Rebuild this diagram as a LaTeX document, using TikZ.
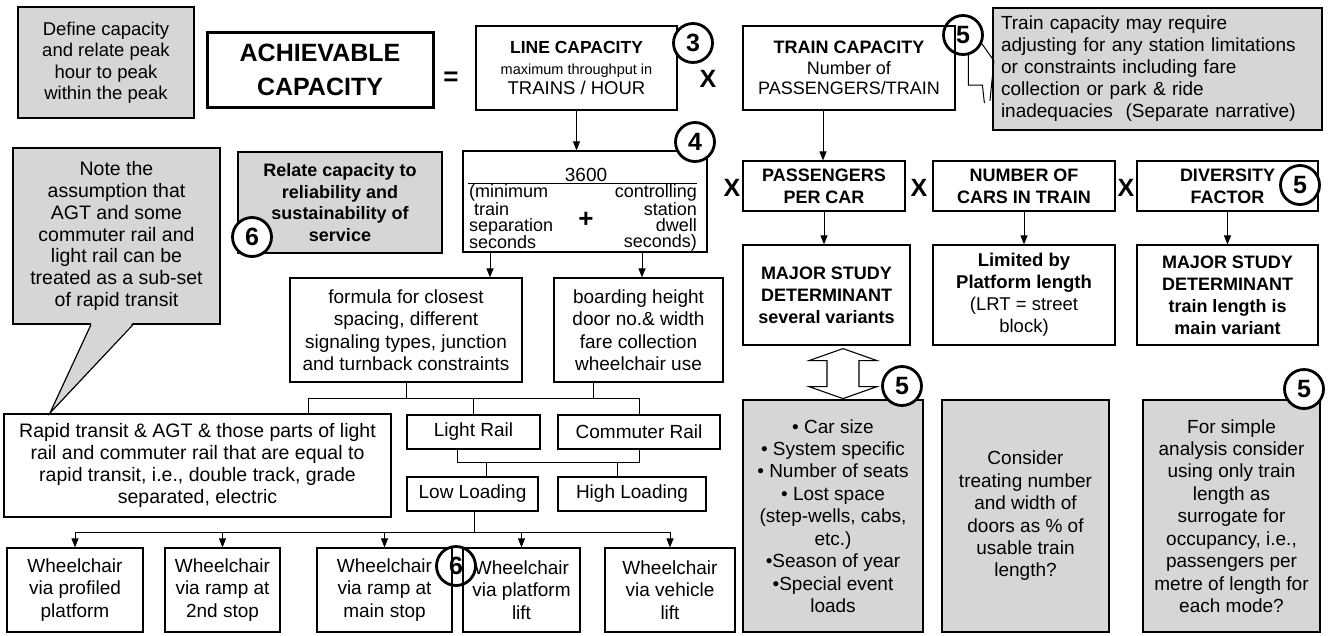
\documentclass[tikz,border=0pt]{standalone}
\usepackage{fontspec}
\setmainfont{Liberation Sans}
\usetikzlibrary{arrows.meta,calc}
\definecolor{gfill}{gray}{0.84}
\newcommand{\fsz}[2]{\fontsize{#1}{#2}\selectfont}
\begin{document}
\begin{tikzpicture}[x=1pt,y=-1pt,
  box/.style={draw, line width=1.2pt, align=center, inner sep=0pt, font=\fsz{19}{22.5}},
  gbox/.style={box, fill=gfill},
  bbox/.style={box, font=\bfseries\fsz{18}{22}},
  num/.style={circle, draw, line width=2.8pt, minimum size=39pt, inner sep=0pt, font=\bfseries\fsz{25}{25}},
  numw/.style={num, fill=white},
  times/.style={font=\bfseries\fsz{25}{25}, inner sep=0pt},
  arr/.style={line width=1pt, -{Triangle[length=9pt,width=7pt]}},
  ln/.style={line width=1pt},
]
\useasboundingbox (0,0) rectangle (1331,635);
\fill[white] (0,0) rectangle (1331,635);

% ---------------- top row
\node[gbox, minimum width=176pt, minimum height=111pt, font=\fsz{18.5}{21.5}] (define) at (106,62.5)
  {Define capacity\\and relate peak\\hour to peak\\within the peak};
\node[box, line width=3pt, minimum width=226pt, minimum height=75pt, font=\bfseries\fsz{25}{34}] (achieve) at (320,69.5)
  {ACHIEVABLE\\CAPACITY};
\node[font=\bfseries\fsz{26}{26}, inner sep=0pt] (eq) at (451,79) {=};
\node[box, minimum width=201pt, minimum height=84pt, font=\fsz{18}{20.5}] (linecap) at (576.5,68)
  {{\bfseries\fsz{17.5}{20}LINE CAPACITY}\\{\fsz{14.5}{20}maximum throughput in}\\{\fsz{18.5}{20}TRAINS / HOUR}};
\node[numw] (c3) at (693,43) {3};
\node[times] (x1) at (708,79) {X};
\node[box, minimum width=212pt, minimum height=84pt, font=\fsz{18}{20.5}] (traincap) at (849,68)
  {{\bfseries TRAIN CAPACITY}\\Number of\\PASSENGERS/TRAIN};
\node[num] (c5a) at (963,35) {5};
\node[gbox, minimum width=329pt, minimum height=122pt, text width=313pt, align=left, font=\fsz{19}{22}] (callout) at (1157.5,69)
  {Train capacity may require\\adjusting for any station limitations\\or constraints including fare\\collection or park \& ride\\inadequacies\ \ (Separate narrative)};
\draw[ln] (c5a.-75) -- ++(0,30) -- ++(14,0) -- ++(2,18);
\draw[ln] (c5a.-25) -- ++(12,17) -- ++(-4,40);

% ---------------- second row
\node[gbox, minimum width=207pt, minimum height=176pt, font=\fsz{19.5}{21.8}] (note) at (116.5,236)
  {Note the\\assumption that\\AGT and some\\commuter rail and\\light rail can be\\treated as a sub-set\\of rapid transit};
\coordinate (notetip) at (50,413);
\fill[gfill] ([xshift=-25pt,yshift=1.5pt]note.south) -- (notetip) -- ([xshift=16pt,yshift=1.5pt]note.south) -- cycle;
\draw[line width=1.2pt] ([xshift=-25.5pt]note.south) -- (notetip) -- ([xshift=16.5pt]note.south);

\node[gbox, minimum width=204pt, minimum height=101pt, font=\bfseries\fsz{18}{21.5}] (relate) at (340,202.5)
  {Relate capacity to\\reliability and\\sustainability of\\service};
\node[numw] (c6a) at (252,237) {6};

\node[box, minimum width=244pt, minimum height=101pt] (f3600) at (585,201.5) {};
\node[font=\fsz{19}{19}, inner sep=0pt, anchor=base] (n3600) at (586,181) {3600};
\draw[line width=1pt] (468,183) -- (697,183);
\node[anchor=north west, align=left, font=\fsz{18}{16}, inner sep=0pt] (lcol) at (469,184)
  {(minimum\\\hspace*{5pt}train\\separation\\seconds};
\node[anchor=north east, align=right, font=\fsz{18}{16}, inner sep=0pt] (rcol) at (697,184)
  {controlling\\station\\dwell\\seconds)};
\node[font=\bfseries\fsz{26}{26}, inner sep=0pt] (plus) at (586,220) {+};
\node[numw] (c4) at (695,142) {4};

\node[times] (x2) at (732,188) {X};
\node[bbox, minimum width=162pt, minimum height=50pt] (ppc) at (824,186) {PASSENGERS\\PER CAR};
\node[times] (x3) at (919,188) {X};
\node[bbox, minimum width=182pt, minimum height=50pt] (ncars) at (1024,186) {NUMBER OF\\CARS IN TRAIN};
\node[times] (x4) at (1126,188) {X};
\node[bbox, minimum width=181pt, minimum height=50pt] (divers) at (1227.5,186) {DIVERSITY\\FACTOR};
\node[numw] (c5b) at (1300,185) {5};

\node[bbox, minimum width=167pt, minimum height=100pt] (major1) at (826.5,295)
  {MAJOR STUDY\\DETERMINANT\\several variants};
\node[box, minimum width=182pt, minimum height=100pt, font=\fsz{18.5}{22}] (limited) at (1024,295)
  {{\bfseries Limited by}\\{\bfseries Platform length}\\(LRT = street\\block)};
\node[bbox, minimum width=181pt, minimum height=100pt] (major2) at (1227.5,295)
  {MAJOR STUDY\\DETERMINANT\\train length is\\main variant};

% ---------------- third row
\node[box, minimum width=232pt, minimum height=104pt] (formula) at (406,330)
  {formula for closest\\spacing, different\\signaling types, junction\\and turnback constraints};
\node[box, minimum width=169pt, minimum height=104pt] (boarding) at (638.5,330)
  {boarding height\\door no.\& width\\fare collection\\wheelchair use};

\node[box, minimum width=387pt, minimum height=103pt, font=\fsz{19.5}{22}] (rapid) at (197.5,465.5)
  {Rapid transit \& AGT \& those parts of light\\rail and commuter rail that are equal to\\rapid transit, i.e., double track, grade\\separated, electric};
\node[box, minimum width=133pt, minimum height=34pt] (lightrail) at (473.5,432) {Light Rail};
\node[box, minimum width=162pt, minimum height=34pt] (commuter) at (639,432) {Commuter Rail};
\node[box, minimum width=131pt, minimum height=34pt] (lowload) at (472.5,494) {Low Loading};
\node[box, minimum width=148pt, minimum height=34pt] (highload) at (632,494) {High Loading};

\node[box, minimum width=136pt, minimum height=84pt] (wa) at (75,590) {Wheelchair\\via profiled\\platform};
\node[box, minimum width=115pt, minimum height=84pt] (wb) at (222.5,590) {Wheelchair\\via ramp at\\2nd stop};
\node[box, minimum width=135pt, minimum height=84pt] (wc) at (384.5,590) {Wheelchair\\via ramp at\\main stop};
\node[box, minimum width=117pt, minimum height=84pt] (wd) at (521.5,590) {Wheelchair\\via platform\\lift};
\node[box, minimum width=130pt, minimum height=84pt] (we) at (670,590) {Wheelchair\\via vehicle\\lift};
\node[num] (c6b) at (456,566) {6};

\node[gbox, minimum width=180pt, minimum height=232pt, font=\fsz{19}{22.4}] (carsize) at (833,516)
  {• Car size\\• System specific\\• Number of seats\\• Lost space\\(step-wells, cabs,\\etc.)\\•Season of year\\•Special event\\loads};
\node[gbox, minimum width=167pt, minimum height=232pt, font=\fsz{19}{22.4}] (consider) at (1025.5,516)
  {Consider\\treating number\\and width of\\doors as \% of\\usable train\\length?};
\node[gbox, minimum width=177pt, minimum height=232pt, font=\fsz{19}{22.4}] (forsimple) at (1231.5,516)
  {For simple\\analysis consider\\using only train\\length as\\surrogate for\\occupancy, i.e.,\\passengers per\\metre of length for\\each mode?};
\node[numw] (c5c) at (902,386) {5};
\node[numw] (c5d) at (1304,389) {5};

% double hollow arrow
\draw[line width=1.1pt, fill=white, line join=miter]
  ([xshift=16.5pt,yshift=-3pt]major1.south) -- ++(34,12) -- ++(-18,0) -- ++(0,26) -- ++(18,0)
  -- ++(-34,12) -- ++(-34,-12) -- ++(18,0) -- ++(0,-26) -- ++(-18,0) -- cycle;

% ---------------- connectors
\coordinate (busA) at (0,398);
\coordinate (busB) at (0,462);
\coordinate (busC) at (0,532);

\draw[arr] (linecap.south) -- (linecap.south |- f3600.north);
\draw[arr] ([xshift=-95pt]f3600.south) -- ([xshift=-95pt]f3600.south |- formula.north);
\draw[arr] ([xshift=57pt]f3600.south) -- ([xshift=57pt]f3600.south |- boarding.north);
\draw[arr] ([xshift=-1pt]ppc.north |- traincap.south) -- ([xshift=-1pt]ppc.north);
\draw[arr] (ppc.south) -- (ppc.south |- major1.north);
\draw[arr] (ncars.south) -- (limited.north);
\draw[arr] (divers.south) -- (major2.north);

\draw[ln] (formula.south) -- (formula.south |- busA);
\draw[ln] ([xshift=-45.5pt]boarding.south) -- ([xshift=-45.5pt]boarding.south |- busA);
\draw[ln] ([xshift=110.5pt]rapid.north) -- ([xshift=110.5pt]rapid.north |- busA) -- (commuter.north |- busA) -- (commuter.north);
\draw[ln] (lightrail.north |- busA) -- (lightrail.north);
\draw[ln] ([xshift=-16.5pt]lightrail.south) -- ([xshift=-16.5pt]lightrail.south |- busB) -- (commuter.south |- busB) -- (commuter.south);
\draw[ln] ([xshift=13.5pt]lowload.north |- busB) -- ([xshift=13.5pt]lowload.north);
\draw[ln] ([xshift=-15pt]highload.north |- busB) -- ([xshift=-15pt]highload.north);
\draw[ln] ([xshift=1.5pt]lowload.south) -- ([xshift=1.5pt]lowload.south |- busC);
\draw[ln] (wa.north |- busC) -- (we.north |- busC);
\foreach \w in {wa,wb,wc,wd,we} \draw[arr] (\w.north |- busC) -- (\w.north);
\end{tikzpicture}
\end{document}
